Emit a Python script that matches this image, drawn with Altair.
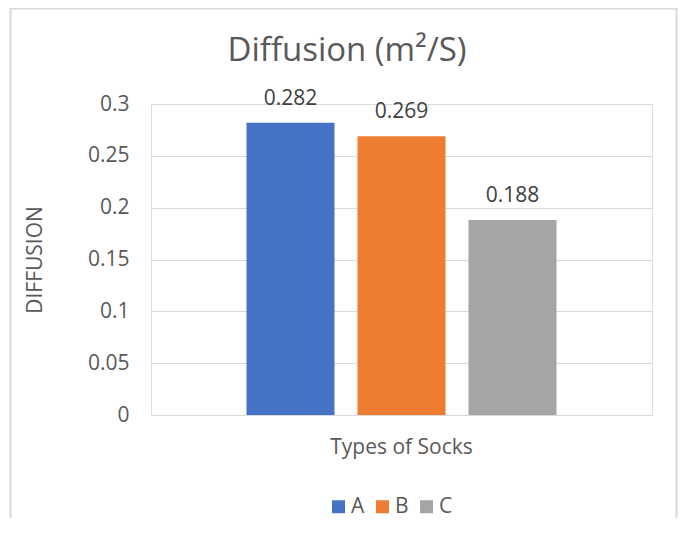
import altair as alt
import pandas as pd

categories = ["Types of Socks", "Types of Socks", "Types of Socks"]
series = ["A", "B", "C"]
values = [0.282, 0.269, 0.188]
colors = ["#4472C4", "#ED7D31", "#A5A5A5"]
y_ticks = [0, 0.05, 0.1, 0.15, 0.2, 0.25, 0.3]
title_text = ["Diffusion (m²/S)"]

df = pd.DataFrame({"cat": categories, "series": series, "value": values})
tdf = pd.DataFrame({"t": title_text})
FONT = "Open Sans"

x_enc = alt.X("cat:N", title=None,
              scale=alt.Scale(paddingInner=0, paddingOuter=0.308),
              axis=alt.Axis(labelAngle=0, labelPadding=21, ticks=False, domain=False,
                            labelFont=FONT, labelFontSize=21, labelColor="#595959"))
xo_enc = alt.XOffset("series:N", scale=alt.Scale(paddingInner=0.207, paddingOuter=0))
y_enc = alt.Y("value:Q", title="DIFFUSION",
              scale=alt.Scale(domain=[0, 0.3], nice=False),
              axis=alt.Axis(values=y_ticks, format=".2~f", ticks=False, domain=False,
                            labelPadding=22, gridColor="#d9d9d9", gridWidth=1,
                            labelFont=FONT, labelFontSize=21, labelColor="#595959",
                            titleFont=FONT, titleFontSize=21, titleColor="#595959",
                            titleFontWeight="normal", titleAngle=-90,
                            titleX=-116, titleY=155.5, titleBaseline="middle",
                            titleAlign="center"))

bars = alt.Chart(df).mark_bar().encode(
    x=x_enc, xOffset=xo_enc, y=y_enc,
    color=alt.Color("series:N", title=None,
                    scale=alt.Scale(domain=series, range=colors),
                    legend=alt.Legend(orient="none", direction="horizontal",
                                      legendX=177, legendY=392,
                                      symbolType="square", symbolSize=169,
                                      symbolStrokeWidth=0,
                                      labelFont=FONT, labelFontSize=21,
                                      labelColor="#595959", labelOffset=2,
                                      columnPadding=7)),
)

labels = alt.Chart(df).mark_text(baseline="bottom", dy=-14, font=FONT,
                                 fontSize=21, color="#404040").encode(
    x=alt.X("cat:N"), xOffset=alt.XOffset("series:N"),
    y=alt.Y("value:Q"), text=alt.Text("value:Q", format=".3f"))

title = alt.Chart(tdf).mark_text(font=FONT, fontSize=33, color="#595959",
                                 baseline="middle", align="center").encode(
    text="t:N", x=alt.value(196), y=alt.value(-53))

border = alt.Chart(df).mark_rect(fill=None, stroke="#d9d9d9", strokeWidth=1.5).encode(
    x=alt.value(-140.5), x2=alt.value(525.5), y=alt.value(-95.5), y2=alt.value(440))

chart = alt.layer(border, bars, labels, title).properties(
    width=501, height=311,
    autosize=alt.AutoSizeParams(type="none"),
    padding={"left": 143, "top": 96, "right": 26, "bottom": 103},
).configure_view(stroke=None).configure(background="white")

chart.save("out.html", embed_options={"renderer": "svg", "actions": False})
